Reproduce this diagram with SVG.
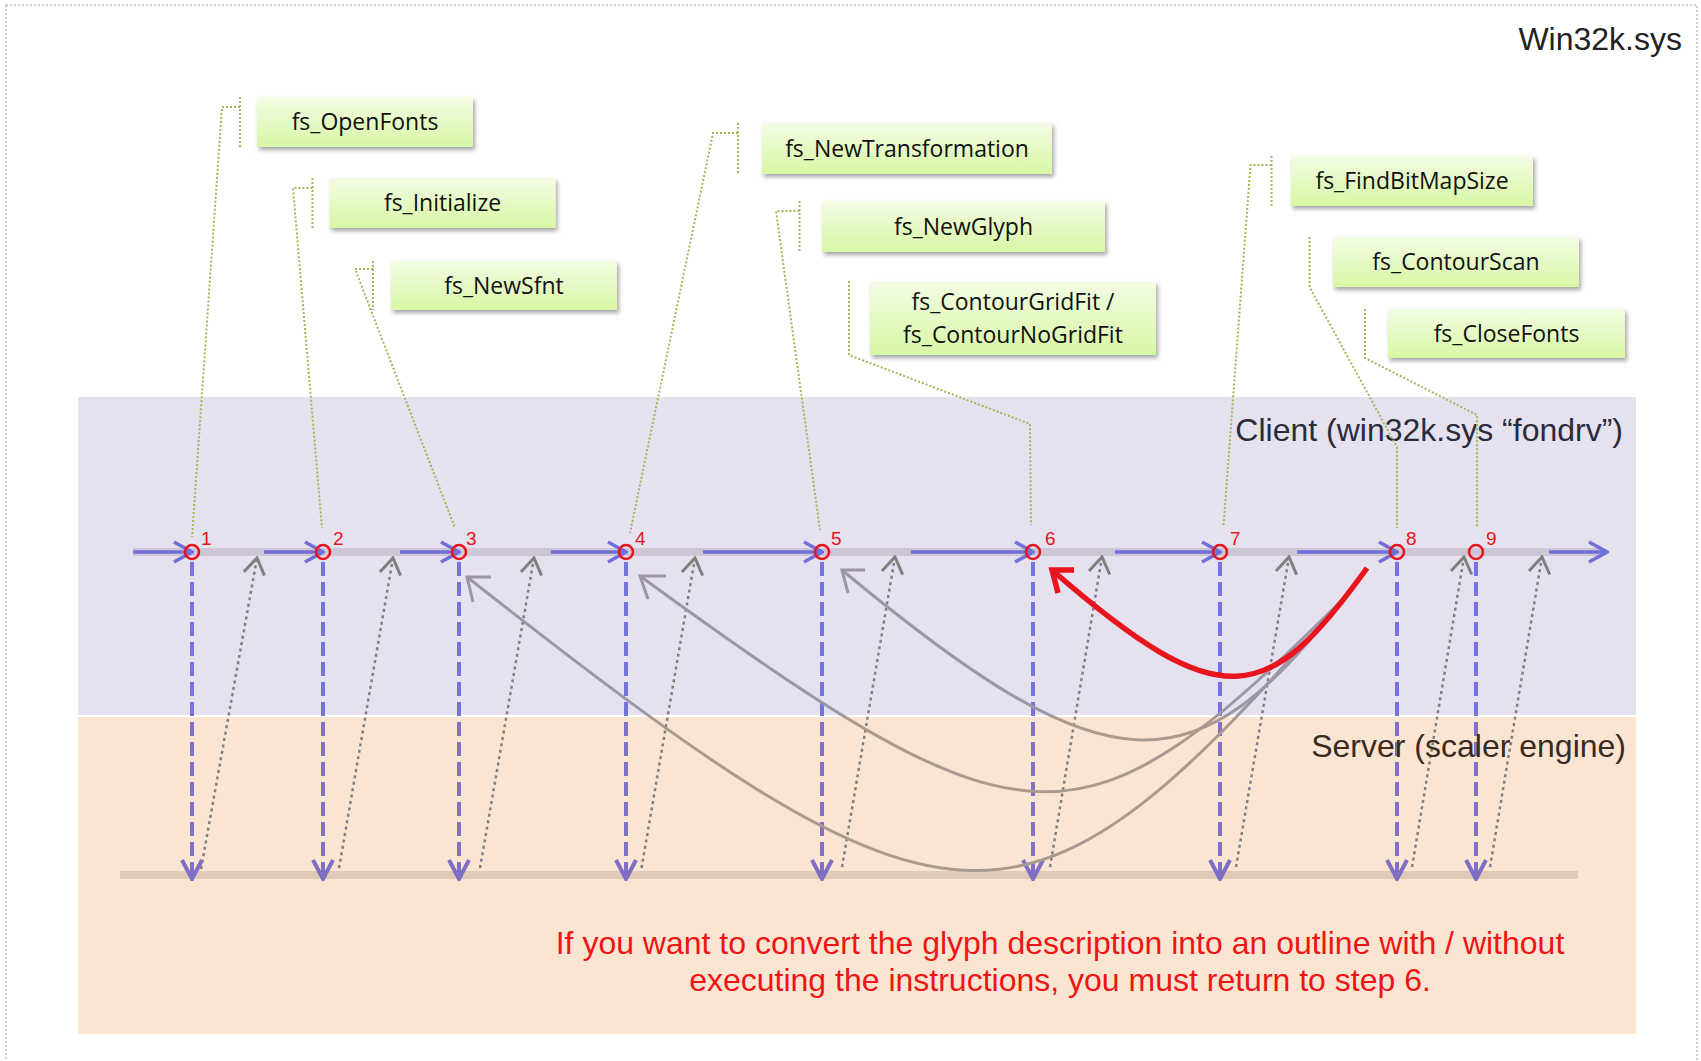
<svg xmlns="http://www.w3.org/2000/svg" width="1701" height="1061" viewBox="0 0 1701 1061">
  <defs>
    <linearGradient id="boxFill" x1="0" y1="0" x2="0" y2="1">
      <stop offset="0" stop-color="#f3fce4"/>
      <stop offset="1" stop-color="#d8f7a5"/>
    </linearGradient>
    <!-- line colours shift where they cross from the client band into the server band -->
    <linearGradient id="blueDrop" gradientUnits="userSpaceOnUse" x1="0" y1="0" x2="0" y2="1061">
      <stop offset="0" stop-color="#7474dc"/>
      <stop offset="0.6748" stop-color="#7474dc"/>
      <stop offset="0.6748" stop-color="#8070c6"/>
      <stop offset="1" stop-color="#8070c6"/>
    </linearGradient>
    <linearGradient id="grayCurve" gradientUnits="userSpaceOnUse" x1="0" y1="0" x2="0" y2="1061">
      <stop offset="0" stop-color="#9c97a6"/>
      <stop offset="0.6748" stop-color="#9c97a6"/>
      <stop offset="0.6748" stop-color="#a99a8e"/>
      <stop offset="1" stop-color="#a99a8e"/>
    </linearGradient>
    <filter id="shadow" x="-10%" y="-20%" width="130%" height="160%">
      <feDropShadow dx="2" dy="3" stdDeviation="2" flood-color="#000" flood-opacity="0.35"/>
    </filter>
    <marker id="arrBlue" markerUnits="userSpaceOnUse" viewBox="-22 -13 24 26" markerWidth="24" markerHeight="26" refX="0" refY="0" orient="auto">
      <path d="M-18,-10 L0,0 L-18,10" fill="none" stroke="#7070d8" stroke-width="3.5"/>
    </marker>
    <marker id="arrDown" markerUnits="userSpaceOnUse" viewBox="-24 -13 26 26" markerWidth="26" markerHeight="26" refX="0" refY="0" orient="auto">
      <path d="M-19,-10 L0,0 L-19,10" fill="none" stroke="#7f6fc4" stroke-width="4"/>
    </marker>
    <marker id="arrGray" markerUnits="userSpaceOnUse" viewBox="-20 -13 22 26" markerWidth="22" markerHeight="26" refX="0" refY="0" orient="auto">
      <path d="M-16,-10.5 L0,0 L-16,10.5" fill="none" stroke="#808080" stroke-width="3"/>
    </marker>
    <style>
      .frame { fill: none; stroke: #8da2c6; stroke-width: 1; stroke-dasharray: 2 2; }
      .box { fill: url(#boxFill); filter: url(#shadow); }
      .boxText { font-family: "Open Sans", "Liberation Sans", sans-serif; font-size: 23px; fill: #111; text-anchor: middle; }
      .title { font-family: "Liberation Sans", Arial, sans-serif; font-size: 32px; }
      .callout { fill: none; stroke: #9bbb59; stroke-width: 2; stroke-dasharray: 2 2; }
      .flow { fill: none; stroke: #7070d8; stroke-width: 3.5; marker-end: url(#arrBlue); }
      .drop { fill: none; stroke: url(#blueDrop); stroke-width: 4; stroke-dasharray: 14 6; marker-end: url(#arrDown); }
      .ret { fill: none; stroke: #7f7f7f; stroke-width: 2.5; stroke-dasharray: 3 3.5; marker-end: url(#arrGray); }
      .loop { fill: none; stroke: url(#grayCurve); stroke-width: 3; }
      .loopHead { fill: none; stroke: #9b96a3; stroke-width: 3; }
      .step { fill: none; stroke: #e8141e; stroke-width: 2.6; }
      .stepNum { font-family: "Liberation Sans", Arial, sans-serif; font-size: 19px; fill: #e8141e; }
    </style>
  </defs>

  <rect width="1701" height="1061" fill="#ffffff"/>
  <rect class="frame" x="6" y="5" width="1691" height="1062"/>

  <!-- layers -->
  <g id="client-band">
    <rect x="78" y="397" width="1558" height="318" fill="#e6e1ee"/>
    <text class="title" x="1623" y="441" text-anchor="end" fill="#2b2b3a">Client (win32k.sys “fondrv”)</text>
  </g>
  <g id="server-band">
    <rect x="78" y="717" width="1558" height="317" fill="#fae5d3"/>
    <rect x="120" y="871" width="1458" height="8" fill="#dfc9b8"/>
  </g>
  <text class="title" x="1682" y="50" text-anchor="end" fill="#222">Win32k.sys</text>

  <!-- client timeline rail -->
  <rect x="133" y="548" width="1470" height="8" fill="#cdc7d5"/>

  <g id="connectors">
    <!-- callout leaders from each function box to its step -->
    <path class="callout" d="M240,97 V147 M240,107 H222 L192,537"/>
    <path class="callout" d="M312.5,178 V228 M312.5,188 H293 L322,528"/>
    <path class="callout" d="M373,261 V310 M373,269 H355 L455,528"/>
    <path class="callout" d="M738,123 V174 M738,133 H713 L630,533"/>
    <path class="callout" d="M799.5,201 V251 M799.5,211 H776 L820,530"/>
    <path class="callout" d="M849,281 V355 L1030,424 L1031,525"/>
    <path class="callout" d="M1271.5,156 V206 M1271.5,165 H1250.5 L1223.5,526"/>
    <path class="callout" d="M1309.5,237 V287 L1397,447 V528"/>
    <path class="callout" d="M1365,309 V358 L1477,415 V528"/>

    <!-- calls along the client timeline -->
    <path class="flow" d="M133,552 H192"/>
    <path class="flow" d="M264,552 H323"/>
    <path class="flow" d="M400,552 H459"/>
    <path class="flow" d="M551,552 H626"/>
    <path class="flow" d="M703,552 H822"/>
    <path class="flow" d="M911,552 H1033"/>
    <path class="flow" d="M1115,552 H1220"/>
    <path class="flow" d="M1297,552 H1397"/>
    <path class="flow" d="M1549,552 H1607"/>

    <!-- calls down into the scaler -->
    <path class="drop" d="M192,562 V879"/>
    <path class="drop" d="M323,562 V879"/>
    <path class="drop" d="M459,562 V879"/>
    <path class="drop" d="M626,562 V879"/>
    <path class="drop" d="M822,562 V879"/>
    <path class="drop" d="M1033,562 V879"/>
    <path class="drop" d="M1220,562 V879"/>
    <path class="drop" d="M1397,562 V879"/>
    <path class="drop" d="M1476,562 V879"/>

    <!-- returns back to the client -->
    <path class="ret" d="M201,869 L257,558"/>
    <path class="ret" d="M339,868 L393,558"/>
    <path class="ret" d="M480,868 L534,558"/>
    <path class="ret" d="M641.5,868 L695,558"/>
    <path class="ret" d="M842,867 L895,557"/>
    <path class="ret" d="M1050,867 L1102,557"/>
    <path class="ret" d="M1236,867 L1289,557"/>
    <path class="ret" d="M1412,867 L1464,557"/>
    <path class="ret" d="M1490,867 L1542,557"/>

    <!-- loops back to earlier steps -->
    <path class="loop" d="M1345,597 C1025,965 960,965 467,577"/>
    <path class="loop" d="M1345,597 C1081,860 1030,860 640,576"/>
    <path class="loop" d="M1345,597 C1195,792 1109,792 842,570"/>
    <path class="loopHead" d="M491,577 L467,577 L473,602"/>
    <path class="loopHead" d="M666,576 L640,576 L648,599"/>
    <path class="loopHead" d="M865,570 L842,570 L848,593"/>

    <!-- return to step 6 -->
    <path d="M1367,568 C1268,706 1222,718 1052,570" fill="none" stroke="#e8141e" stroke-width="5.5"/>
    <path d="M1074,570 L1052,570 L1058,593" fill="none" stroke="#e8141e" stroke-width="5.5"/>
  </g>

  <!-- steps -->
  <g id="step-1"><circle class="step" cx="192" cy="552" r="7"/><text class="stepNum" x="201" y="545">1</text></g>
  <g id="step-2"><circle class="step" cx="323" cy="552" r="7"/><text class="stepNum" x="333" y="545">2</text></g>
  <g id="step-3"><circle class="step" cx="459" cy="552" r="7"/><text class="stepNum" x="466" y="545">3</text></g>
  <g id="step-4"><circle class="step" cx="626" cy="552" r="7"/><text class="stepNum" x="635" y="545">4</text></g>
  <g id="step-5"><circle class="step" cx="822" cy="552" r="7"/><text class="stepNum" x="831" y="545">5</text></g>
  <g id="step-6"><circle class="step" cx="1033" cy="552" r="7"/><text class="stepNum" x="1045" y="545">6</text></g>
  <g id="step-7"><circle class="step" cx="1220" cy="552" r="7"/><text class="stepNum" x="1230" y="545">7</text></g>
  <g id="step-8"><circle class="step" cx="1397" cy="552" r="7"/><text class="stepNum" x="1406" y="545">8</text></g>
  <g id="step-9"><circle class="step" cx="1476" cy="552" r="7"/><text class="stepNum" x="1486" y="545">9</text></g>

  <!-- function boxes -->
  <g id="fs-OpenFonts"><rect class="box" x="257" y="97" width="216" height="50"/><text class="boxText" x="365" y="130">fs_OpenFonts</text></g>
  <g id="fs-Initialize"><rect class="box" x="329.5" y="178" width="226" height="50"/><text class="boxText" x="442.5" y="211">fs_Initialize</text></g>
  <g id="fs-NewSfnt"><rect class="box" x="391" y="261" width="226" height="49"/><text class="boxText" x="504" y="294">fs_NewSfnt</text></g>
  <g id="fs-NewTransformation"><rect class="box" x="762" y="123" width="290" height="51"/><text class="boxText" x="907" y="157">fs_NewTransformation</text></g>
  <g id="fs-NewGlyph"><rect class="box" x="822" y="201" width="283" height="51"/><text class="boxText" x="963.5" y="235">fs_NewGlyph</text></g>
  <g id="fs-ContourGridFit"><rect class="box" x="870" y="281.5" width="286" height="73.5"/><text class="boxText" x="1013" y="310">fs_ContourGridFit /</text><text class="boxText" x="1013" y="343">fs_ContourNoGridFit</text></g>
  <g id="fs-FindBitMapSize"><rect class="box" x="1291" y="156" width="242" height="50"/><text class="boxText" x="1412" y="189">fs_FindBitMapSize</text></g>
  <g id="fs-ContourScan"><rect class="box" x="1333" y="237" width="246" height="50"/><text class="boxText" x="1456" y="270">fs_ContourScan</text></g>
  <g id="fs-CloseFonts"><rect class="box" x="1388" y="309" width="237" height="49"/><text class="boxText" x="1506.5" y="342">fs_CloseFonts</text></g>

  <!-- server label and note -->
  <text class="title" x="1626" y="757" text-anchor="end" fill="#3a2a1f">Server (scaler engine)</text>
  <text class="title" x="1060" y="954" text-anchor="middle" fill="#f01414">If you want to convert the glyph description into an outline with / without</text>
  <text class="title" x="1060" y="991" text-anchor="middle" fill="#f01414">executing the instructions, you must return to step 6.</text>
</svg>
